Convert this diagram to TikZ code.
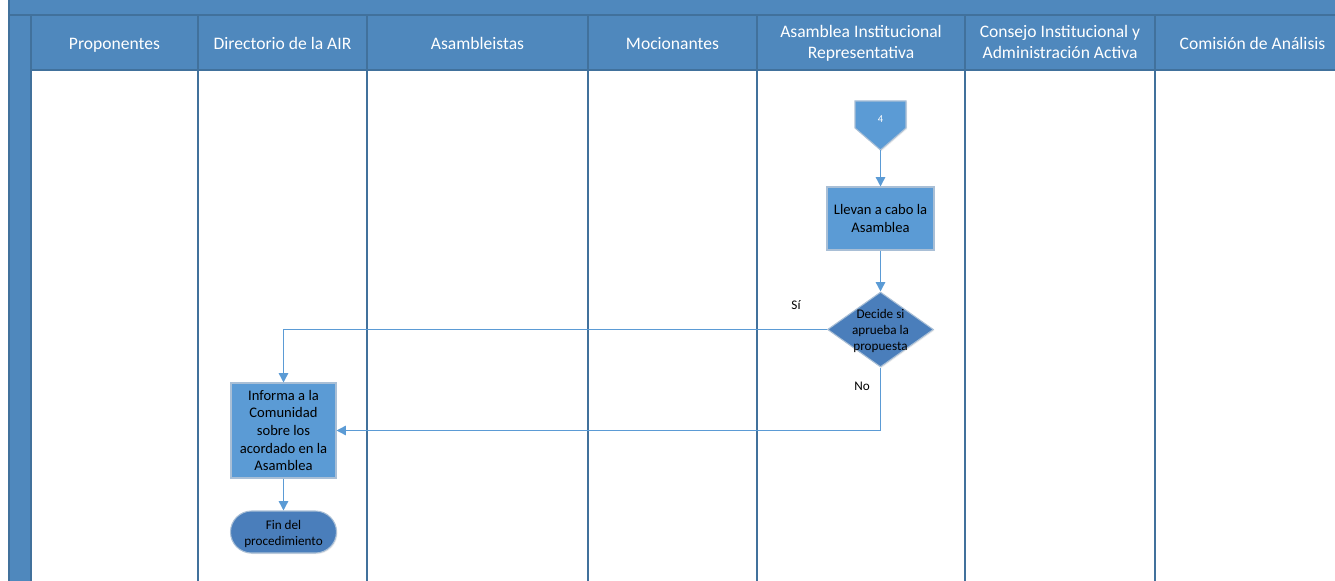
\documentclass[tikz,border=0pt]{standalone}
\usepackage{fontspec}
\setmainfont{Carlito}
\usepackage{xcolor}
\usetikzlibrary{positioning,shapes.geometric,arrows.meta,shadows}

\definecolor{poolblue}{HTML}{4F88BD}
\definecolor{laneedge}{HTML}{41719C}
\definecolor{stepblue}{HTML}{5B9BD5}
\definecolor{decblue}{HTML}{4A7EBB}
\definecolor{stepedge}{HTML}{A9BFD6}

\tikzset{
	lanehead/.style={text=white, align=center, font=\fontsize{10}{12.3}\selectfont, execute at begin node=\strut, execute at end node=\strut},
	laneline/.style={draw=laneedge, line width=0.8pt},
	softshadow/.style={drop shadow={opacity=0.15, shadow xshift=0.6pt, shadow yshift=-0.6pt}},
	process/.style={rectangle, draw=stepedge, fill=stepblue, line width=0.6pt, align=center, inner sep=1pt, font=\fontsize{8.3}{10}\selectfont, softshadow},
	decision/.style={diamond, draw=stepedge, fill=decblue, line width=0.6pt, minimum width=2.12cm, minimum height=1.5cm, inner sep=0pt, softshadow},
	terminal/.style={rectangle, rounded corners=0.42cm, draw=stepedge, fill=decblue, line width=0.6pt, align=center, minimum width=2.12cm, minimum height=0.84cm, font=\fontsize{7.5}{9}\selectfont, softshadow},
	smalltext/.style={align=center, font=\fontsize{7.5}{9}\selectfont},
	flow/.style={draw=stepblue, line width=0.85pt, -{Triangle[width=5.3pt,length=5.3pt]}}
}

\begin{document}
\begin{tikzpicture}[x=0.02cm, y=-0.02cm]
	\useasboundingbox (0,0) rectangle (1335,581);
	
	% Marco del diagrama
	\fill[white] (0,0) rectangle (1335,581);
	\fill[poolblue] (9,0) rectangle (1335,70);
	\fill[poolblue] (9,70) rectangle (31,581);
	\draw[laneline] (9,0) -- (9,581);
	\draw[laneline] (9,15) -- (1335,15);
	\draw[laneline] (31,70) -- (1335,70);
	
	% Carriles
	\foreach \xl in {31,198,367,588,757,965,1155} {
		\draw[laneline] (\xl,15) -- (\xl,581);
	}
	
	% Encabezados
	\foreach \xa/\xb/\name [count=\i] in {31/198/Proponentes, 198/367/Directorio de la AIR, 367/588/Asambleistas, 588/757/Mocionantes, 757/965/{Asamblea Institucional\\Representativa}, 965/1155/{Consejo Institucional y\\Administración Activa}, 1155/1350/Comisión de Análisis} {
		\node[lanehead] (h\i) at ({(\xa+\xb)/2},45) {\name};
	}
	
	% Conector de pagina
	\fill[stepblue, draw=stepedge, line width=0.6pt, softshadow] (855,101) -- (906,101) -- (906,128) -- (880.5,150) -- (855,128) -- cycle;
	\coordinate (c4tip) at (880.5,150);
	\node[text=white, font=\fontsize{6}{7}\selectfont] (c4) at (880.5,119) {4};
	
	% Actividades
	\node[process, minimum width=2.14cm, minimum height=1.26cm] (asam) at (880.5,218.5) {Llevan a cabo la\\Asamblea};
	\node[decision] (dec) at (880.5,329.5) {};
	\node[smalltext] (dectext) at (880.5,331) {Decide si\\aprueba la\\propuesta};
	\node[process, minimum width=2.1cm, minimum height=1.9cm] (info) at (283.5,430.5) {Informa a la\\Comunidad\\sobre los\\acordado en la\\Asamblea};
	\node[terminal] (fin) at (283.5,532) {};
	\node[smalltext] (fintext) at (283.5,534) {Fin del\\procedimiento};
	
	% Etiquetas
	\node[smalltext] (si) at (796,305) {Sí};
	\node[smalltext] (no) at (862,386) {No};
	
	% Flechas
	\draw[flow] (c4tip) -- (asam.north);
	\draw[flow] (asam.south) -- (dec.north);
	\draw[flow] (dec.west) -| (info.north);
	\draw[flow] (dec.south) |- (info.east);
	\draw[flow] (info.south) -- (fin.north);
\end{tikzpicture}
\end{document}
